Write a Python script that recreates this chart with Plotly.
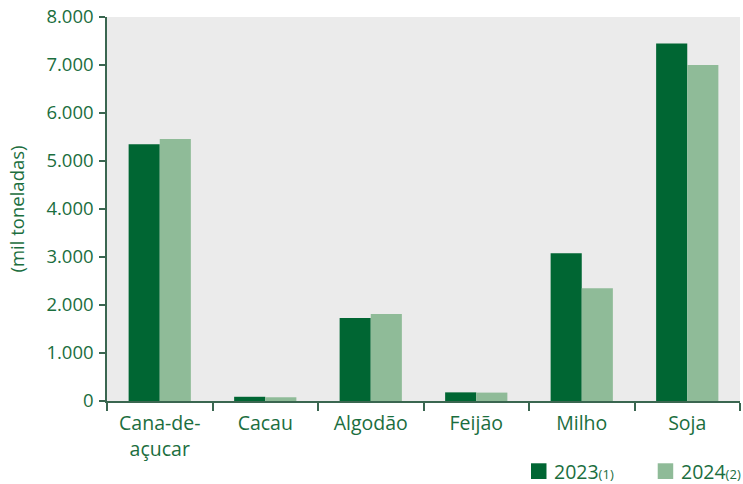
import plotly.graph_objects as go

categories = ["Cana-de-<br>açucar", "Cacau", "Algodão", "Feijão", "Milho", "Soja"]
values_2023 = [5350, 88, 1730, 180, 3080, 7450]
values_2024 = [5460, 78, 1810, 175, 2350, 7000]
series_names = ["2023", "2024"]
series_notes = ["(1)", "(2)"]
ytick_vals = [0, 1000, 2000, 3000, 4000, 5000, 6000, 7000, 8000]
ytick_text = ["0", "1.000", "2.000", "3.000", "4.000", "5.000", "6.000", "7.000", "8.000"]

dark = "#006633"
light = "#8fbb98"
txt = "#1b6e3e"
axis_col = "#3a6650"
font_fam = "Open Sans"
colors = [dark, light]

fig = go.Figure()
for vals, nm, note, col in zip([values_2023, values_2024], series_names, series_notes, colors):
    fig.add_trace(go.Bar(x=categories, y=vals, marker=dict(color=col, line=dict(width=0)),
                         name=nm + note, showlegend=False))

# legend drawn manually (square swatches + labels) below the plot, right side
leg_x0 = [0.6698, 0.8700]
for i, (nm, note, col) in enumerate(zip(series_names, series_notes, colors)):
    fig.add_shape(type="rect", xref="paper", yref="paper",
                  x0=leg_x0[i], x1=leg_x0[i] + 0.0245, y0=-0.2031, y1=-0.1622,
                  fillcolor=col, line=dict(width=0))
    fig.add_annotation(xref="paper", yref="paper", x=leg_x0[i] + 0.033, y=-0.184,
                       xanchor="left", yanchor="middle", showarrow=False,
                       text=nm + "<span style='font-size:13px'>" + note + "</span>",
                       font=dict(size=19.5, color=txt, family=font_fam))

fig.update_layout(
    width=743, height=484,
    margin=dict(l=107, r=3, t=17, b=83),
    paper_bgcolor="white", plot_bgcolor="#ebebeb",
    barmode="group", bargap=0.41, bargroupgap=0,
    font=dict(family=font_fam, color=txt, size=19),
    showlegend=False,
    xaxis=dict(showline=True, linecolor=axis_col, linewidth=1.5, ticks="outside",
               tickson="boundaries", ticklen=8, tickcolor=axis_col, tickwidth=1.5,
               showgrid=False, tickfont=dict(size=19.5, color=txt), range=[-0.5, 5.5],
               automargin=False, ticklabelstandoff=4),
    yaxis=dict(range=[0, 8000], tickvals=ytick_vals, ticktext=ytick_text,
               showline=True, linecolor=axis_col, linewidth=1.5, ticks="outside",
               ticklen=6, tickcolor=axis_col, tickwidth=1.5, showgrid=False, zeroline=False,
               tickfont=dict(size=18.5, color=txt), automargin=False,
               ticklabeloverflow="allow", ticklabelstandoff=2,
               title=dict(text="(mil toneladas)", font=dict(size=18.5, color=txt), standoff=17)),
)

fig.write_html("out.html", config={"displayModeBar": False},
               post_script="document.body.style.margin='0px';document.body.style.overflow='hidden';")
